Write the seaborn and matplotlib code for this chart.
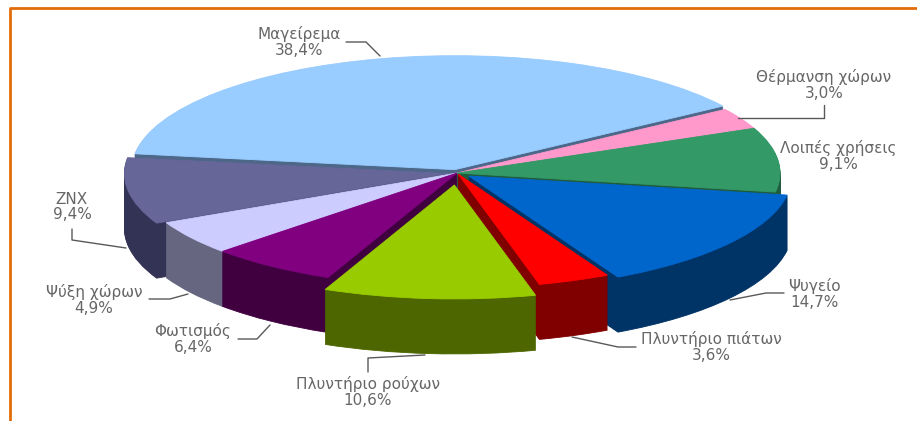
import numpy as np
import seaborn as sns
import matplotlib.pyplot as plt

# shares as printed on the chart, clockwise from the top slice
labels = ['Μαγείρεμα', 'Θέρμανση χώρων', 'Λοιπές χρήσεις', 'Ψυγείο', 'Πλυντήριο πιάτων',
          'Πλυντήριο ρούχων', 'Φωτισμός', 'Ψύξη χώρων', 'ZNX']
values = [38.4, 3.0, 9.1, 14.7, 3.6, 10.6, 6.4, 4.9, 9.4]
value_text = ['38,4%', '3,0%', '9,1%', '14,7%', '3,6%', '10,6%', '6,4%', '4,9%', '9,4%']

top_colors = ['#99CCFF', '#FF99CC', '#339966', '#0066CC', '#FF0000', '#99CC00', '#800080', '#CCCCFF', '#666699']
side_colors = ['#4C6788', '#80506A', '#1F5C3D', '#003366', '#800000', '#4D6600', '#400040', '#666680', '#333355']
explode = [0.03, 0, 0, 0.045, 0.01, 0.105, 0, 0, 0.03]

# label centre and leader line, in picture pixels
label_xy = [(299, 42), (824, 85), (838, 156), (814, 294), (711, 347), (368, 392), (193, 339), (94, 300), (72, 207)]
leaders = [
    [(346, 42), (366, 42), (380, 56)],
    [(738, 118), (824, 118), (824, 105)],
    None,
    [(730, 300), (766, 293), (784, 293)],
    [(572, 337), (618, 347), (636, 347)],
    [(368, 372), (368, 358), (425, 355)],
    [(238, 339), (257, 339), (270, 325)],
    [(149, 299), (170, 299), (188, 294)],
    [(72, 229), (72, 240), (126, 248)],
]

sns.set_theme(style='white')
plt.rcParams['font.family'] = ['DejaVu Sans']

fig = plt.figure(figsize=(9.17, 4.21), dpi=100)
ax = fig.add_axes([0, 0, 1, 1])

# centre of the top face and the ellipse radii in pixels
cx, cy, rx, ry = 457, 173, 323, 114
depth = 55 / ry
start = 172

# back slices get painted first
shares = np.array(values) / sum(values) * 360
ends = start - np.cumsum(shares)
mids = np.radians(ends + shares / 2)
rank = np.argsort(np.argsort(-np.sin(mids)))

for d in np.linspace(depth, 0, 56):
    colors = top_colors if d == 0 else side_colors
    wedges, _ = ax.pie(values, explode=explode, colors=colors, startangle=start, counterclock=False,
                       center=(0, -d), radius=1, wedgeprops={'linewidth': 0.6})
    for i, w in enumerate(wedges):
        w.set_edgecolor(colors[i])
        w.set_zorder(10 + rank[i] * 2 + (1 if d == 0 else 0))

ax.set_aspect('auto')
ax.set_xlim(-cx / rx, (917 - cx) / rx)
ax.set_ylim((cy - 421) / ry, cy / ry)
ax.axis('off')

# overlay in pixel coordinates for labels, leaders and the frame
over = fig.add_axes([0, 0, 1, 1], zorder=5)
over.set_xlim(0, 917)
over.set_ylim(421, 0)
over.axis('off')

for name, txt, (x, y), line in zip(labels, value_text, label_xy, leaders):
    over.text(x, y, name + '\n' + txt, ha='center', va='center', fontsize=11, color='#666666', linespacing=1.05)
    if line is not None:
        over.plot(*zip(*line), color='#595959', lw=1)

over.plot([10, 10, 917], [421, 8, 8], color='#E36C0A', lw=2)

plt.savefig('out.png', dpi=100)
plt.close()
